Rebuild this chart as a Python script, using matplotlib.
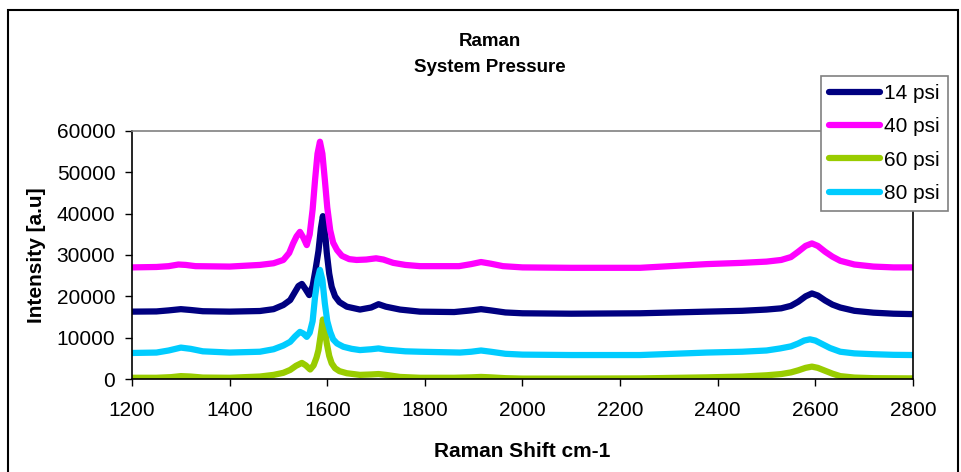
import matplotlib
matplotlib.use("Agg")
import matplotlib.pyplot as plt
from matplotlib.patches import Rectangle

plt.rcParams['font.family'] = ['Liberation Sans', 'DejaVu Sans']

# Raman spectra, read point by point (shift in cm-1, intensity in a.u.)
shift_14 = [1200, 1250, 1275, 1300, 1320, 1345, 1400, 1462, 1490, 1510, 1524, 1534, 1541, 1548,
            1555, 1563, 1570, 1576, 1582, 1587, 1591, 1595, 1599, 1604, 1609, 1616, 1625, 1640,
            1667, 1690, 1705, 1720, 1749, 1790, 1860, 1895, 1915, 1935, 1965, 2000, 2100, 2241,
            2378, 2450, 2500, 2530, 2550, 2565, 2580, 2593, 2605, 2620, 2635, 2651, 2680, 2719,
            2760, 2800]
int_14 = [16300, 16350, 16600, 16900, 16700, 16400, 16300, 16450, 16900, 17900, 19100, 21100, 22500, 23000,
          21800, 20300, 22500, 26500, 31000, 36500, 39400, 36000, 30500, 25500, 22300, 20000, 18600, 17500,
          16800, 17300, 18100, 17500, 16800, 16300, 16200, 16600, 16900, 16600, 16100, 15900, 15800, 15900,
          16300, 16500, 16800, 17100, 17700, 18700, 20000, 20700, 20200, 19000, 18000, 17300, 16500, 16050,
          15800, 15700]

shift_40 = [1200, 1250, 1275, 1295, 1310, 1330, 1400, 1462, 1490, 1510, 1522, 1530, 1537, 1544,
            1551, 1558, 1564, 1570, 1575, 1580, 1585, 1590, 1595, 1600, 1606, 1612, 1620, 1630,
            1645, 1660, 1680, 1700, 1715, 1735, 1760, 1790, 1870, 1895, 1915, 1935, 1960, 2000,
            2100, 2241, 2378, 2450, 2500, 2530, 2550, 2565, 2580, 2593, 2605, 2620, 2635, 2651,
            2680, 2719, 2760, 2800]
int_40 = [27000, 27100, 27300, 27700, 27600, 27300, 27200, 27600, 28000, 28800, 30500, 32800, 34500, 35600,
          34200, 32400, 35000, 41000, 48200, 54500, 57400, 54500, 48200, 41500, 36000, 33000, 31200, 29800,
          29000, 28800, 28900, 29200, 28900, 28100, 27600, 27300, 27300, 27800, 28300, 27900, 27300, 27000,
          26900, 26900, 27800, 28100, 28400, 28800, 29500, 30800, 32200, 32800, 32200, 30800, 29600, 28600,
          27700, 27200, 27000, 27000]

shift_60 = [1200, 1250, 1280, 1300, 1320, 1345, 1400, 1462, 1490, 1510, 1524, 1536, 1548, 1556,
            1565, 1572, 1578, 1582, 1587, 1591, 1595, 1599, 1604, 1609, 1616, 1625, 1640, 1667,
            1690, 1705, 1720, 1749, 1790, 1860, 1895, 1915, 1935, 1965, 2000, 2100, 2241, 2378,
            2450, 2500, 2530, 2550, 2565, 2580, 2593, 2605, 2620, 2635, 2651, 2680, 2720, 2800]
int_60 = [300, 300, 450, 700, 600, 350, 300, 600, 1000, 1500, 2200, 3200, 3900, 3300,
          2300, 3300, 5200, 7000, 11000, 14400, 12000, 8600, 5600, 3800, 2600, 1900, 1400, 1000,
          1100, 1200, 1000, 500, 300, 300, 400, 500, 400, 200, 100, 100, 150, 400,
          600, 900, 1200, 1600, 2100, 2700, 3000, 2700, 2000, 1300, 700, 350, 200, 150]

shift_80 = [1200, 1250, 1275, 1300, 1320, 1345, 1400, 1462, 1490, 1510, 1524, 1534, 1544, 1551,
            1558, 1564, 1570, 1575, 1580, 1585, 1590, 1595, 1600, 1606, 1612, 1620, 1633, 1650,
            1667, 1690, 1705, 1720, 1760, 1790, 1872, 1895, 1915, 1935, 1965, 2000, 2100, 2241,
            2378, 2450, 2500, 2528, 2550, 2565, 2577, 2589, 2600, 2615, 2630, 2651, 2680, 2719,
            2760, 2800]
int_80 = [6300, 6400, 6900, 7600, 7300, 6700, 6400, 6600, 7200, 8100, 9000, 10300, 11400, 11000,
          10200, 11200, 14000, 19900, 24000, 26400, 24000, 18300, 14000, 11400, 9600, 8600, 7800, 7300,
          7000, 7200, 7400, 7100, 6700, 6600, 6400, 6600, 6900, 6600, 6100, 5900, 5800, 5800,
          6400, 6600, 6900, 7400, 7900, 8600, 9300, 9600, 9300, 8400, 7500, 6600, 6200, 6000,
          5850, 5800]

labels = ['14 psi', '40 psi', '60 psi', '80 psi']
colors = ['#000080', '#ff00ff', '#99cc00', '#00ccff']

fig = plt.figure(figsize=(9.61, 4.72), dpi=100)
ax = fig.add_axes([0.1374, 0.197, 0.8126, 0.5255])

series = [(shift_14, int_14), (shift_40, int_40), (shift_60, int_60), (shift_80, int_80)]
for (xs, ys), lab, col in zip(series, labels, colors):
    ax.plot(xs, ys, color=col, lw=4.5, label=lab, solid_capstyle='round', solid_joinstyle='round')

ax.set_xlim(1200, 2800)
ax.set_ylim(0, 60000)
ax.set_xticks(range(1200, 2801, 200))
ax.set_yticks(range(0, 60001, 10000))
ax.tick_params(direction='out', length=5, width=1, labelsize=15, pad=7, colors='black')
ax.tick_params(axis='x', pad=11)

ax.spines['top'].set_color('#808080')
ax.spines['right'].set_color('black')
for s in ax.spines.values():
    s.set_linewidth(1.2)

ax.set_xlabel('Raman Shift cm-1', fontsize=15, fontweight='bold', labelpad=16)
ax.set_ylabel('Intensity [a.u]', fontsize=15, fontweight='bold', labelpad=8)

fig.text(0.51, 0.913, 'Raman', ha='center', va='center', fontsize=13.5, fontweight='bold')
fig.text(0.51, 0.857, 'System Pressure', ha='center', va='center', fontsize=13.5, fontweight='bold')

leg = fig.legend(loc='upper left', bbox_to_anchor=(0.854, 0.839), fontsize=15,
                 frameon=True, fancybox=False, edgecolor='#808080', framealpha=1,
                 handlelength=2.45, handletextpad=0.2, labelspacing=0.68, borderpad=0.4,
                 borderaxespad=0)
leg.get_frame().set_linewidth(1.2)
for h in leg.get_lines():
    h.set_linewidth(4.5)

# outer chart border
fig.patches.append(Rectangle((0.008, -0.05), 0.989, 1.029, transform=fig.transFigure,
                             fill=False, edgecolor='black', linewidth=1.5))

fig.savefig('out.png', dpi=100)
